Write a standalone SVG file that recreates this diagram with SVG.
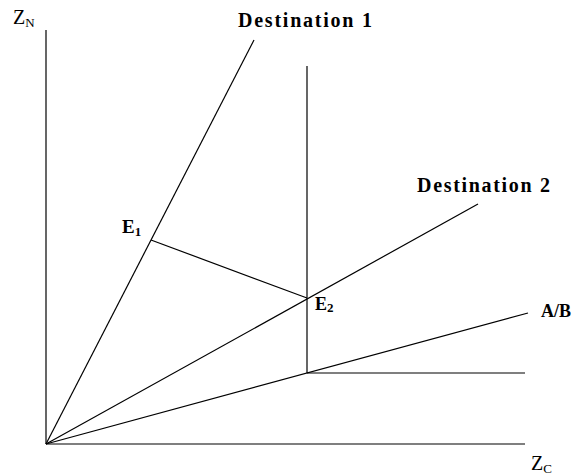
<svg xmlns="http://www.w3.org/2000/svg" width="579" height="475" viewBox="0 0 579 475">
<style>
.ln{stroke:#000;stroke-width:1.2;fill:none}
.t{font-family:"Liberation Serif","Times New Roman",serif;fill:#000}
.b{font-weight:bold}
</style>
<rect width="579" height="475" fill="#fff"/>
<g id="connectors">
<line class="ln" x1="46" y1="30" x2="46" y2="444"/>
<line class="ln" x1="46" y1="444" x2="525" y2="444"/>
<line class="ln" x1="46" y1="444" x2="254" y2="40"/>
<line class="ln" x1="46" y1="444" x2="478" y2="204"/>
<line class="ln" x1="46" y1="444" x2="528" y2="313"/>
<line class="ln" x1="307" y1="66" x2="307" y2="373"/>
<line class="ln" x1="307" y1="373" x2="525" y2="373"/>
<line class="ln" x1="151" y1="240" x2="307" y2="298"/>
</g>
<g id="zn"><text class="t" x="13" y="24" font-size="20">Z<tspan font-size="13" dy="3">N</tspan></text></g>
<g id="zc"><text class="t" x="531" y="470" font-size="20">Z<tspan font-size="13" dy="3">C</tspan></text></g>
<g id="dest1"><text class="t b" x="238" y="27" font-size="20" textLength="134" lengthAdjust="spacing">Destination 1</text></g>
<g id="dest2"><text class="t b" x="417" y="192" font-size="20" textLength="133" lengthAdjust="spacing">Destination 2</text></g>
<g id="e1"><text class="t b" x="122" y="233" font-size="19">E<tspan font-size="13" dy="3">1</tspan></text></g>
<g id="e2"><text class="t b" x="315" y="310" font-size="18">E<tspan font-size="13" dy="2">2</tspan></text></g>
<g id="ab"><text class="t b" x="541" y="317" font-size="18">A/B</text></g>
</svg>
